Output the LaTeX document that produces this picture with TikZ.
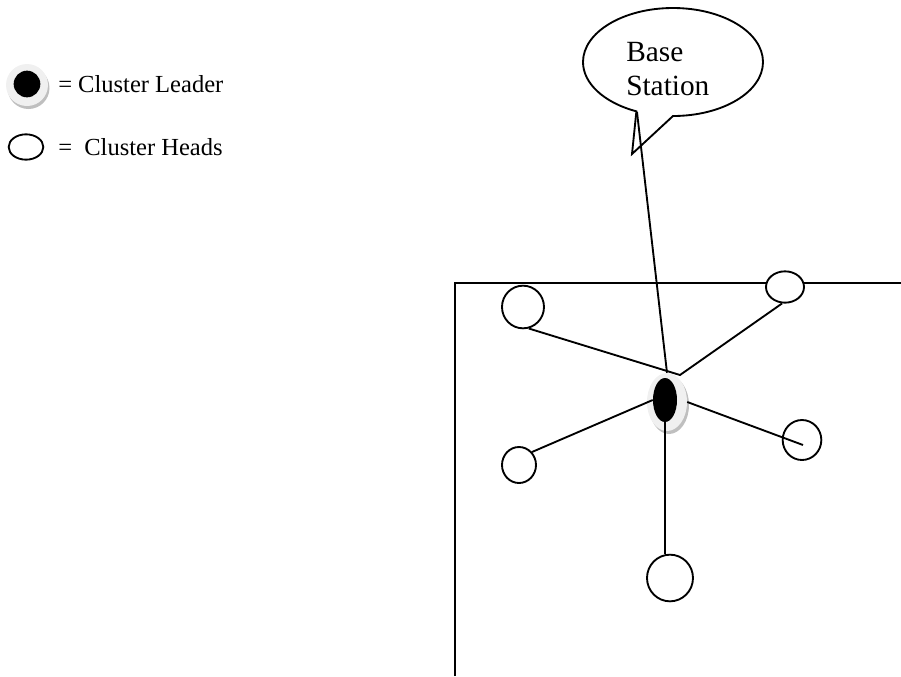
\documentclass[tikz,border=0pt]{standalone}
\usepackage{fontspec}
\setmainfont{Liberation Serif}
\usetikzlibrary{shapes.geometric,calc}

\begin{document}
\begin{tikzpicture}[x=0.75pt,y=-0.75pt,
  ln/.style={line width=1.4pt, black},
  head/.style={ellipse, draw, line width=1.4pt, fill=white, inner sep=0pt},
  halostyle/.style={ellipse, fill=gray!12, inner sep=0pt},
  shadowstyle/.style={ellipse, fill=gray!50, inner sep=0pt},
  core/.style={ellipse, fill=black, inner sep=0pt},
  lbl/.style={font=\fontsize{18.4}{21}\selectfont, inner sep=0pt, anchor=base west},
]
\useasboundingbox (0,0) rectangle (901,676);

% legend
\node[shadowstyle, minimum size=31.5pt] (lgShadow) at (28.5,88) {};
\node[halostyle, minimum size=31.5pt] (lgHalo) at (27,85) {};
\node[core, minimum size=20pt] (lgLeader) at (27,84) {};
\node[lbl] (lgLeaderTxt) at (58,92) {= Cluster Leader};
\node[head, minimum width=26pt, minimum height=19pt] (lgHead) at (26,147) {};
\node[lbl] (lgHeadTxt) at (58,155) {=\ \ Cluster Heads};

% field border
\coordinate (F1) at (455,676);
\coordinate (F2) at (455,283);
\coordinate (F3) at (901,283);
\draw[ln] (F1) -- (F2) -- (F3);

% speech bubble of the base station
\draw[ln, fill=white] (673,116)
  arc[start angle=90, end angle=-246, x radius=90, y radius=54]
  -- (632,154) -- cycle;
\coordinate (tailbase) at (637,112);
\node[font=\fontsize{22}{25.5}\selectfont, align=left, anchor=north west, inner sep=0pt]
  (bs) at (626,42) {Base\\Station};

% cluster heads
\node[head, minimum width=31.5pt, minimum height=32pt] (TL) at (523,307) {};
\node[head, minimum width=28.5pt, minimum height=23.5pt] (TR) at (785,287) {};
\node[head, minimum width=25.5pt, minimum height=27pt] (LC) at (519,465) {};
\node[head, minimum width=29pt, minimum height=30pt] (RC) at (802,440) {};
\node[head, minimum width=34.5pt, minimum height=35pt] (BC) at (670,578) {};

% cluster leader
\node[shadowstyle, minimum width=30pt, minimum height=43.5pt] (shadow) at (669,405) {};
\node[halostyle, minimum width=30pt, minimum height=43.5pt] (halo) at (667,402) {};
\node[core, minimum width=18pt, minimum height=33pt] (L) at (665,400) {};

% links
\coordinate (J) at (680,375);
\draw[ln] (TL.-75) -- (J) -- (TR.-100);
\draw[ln] (halo.north) -- (tailbase);
\draw[ln] (LC.45) -- (L.west);
\draw[ln] (halo.east) -- ($(RC.center)+(1,5)$);
\draw[ln] (L.south) -- (L.south |- BC.north);
\end{tikzpicture}
\end{document}
